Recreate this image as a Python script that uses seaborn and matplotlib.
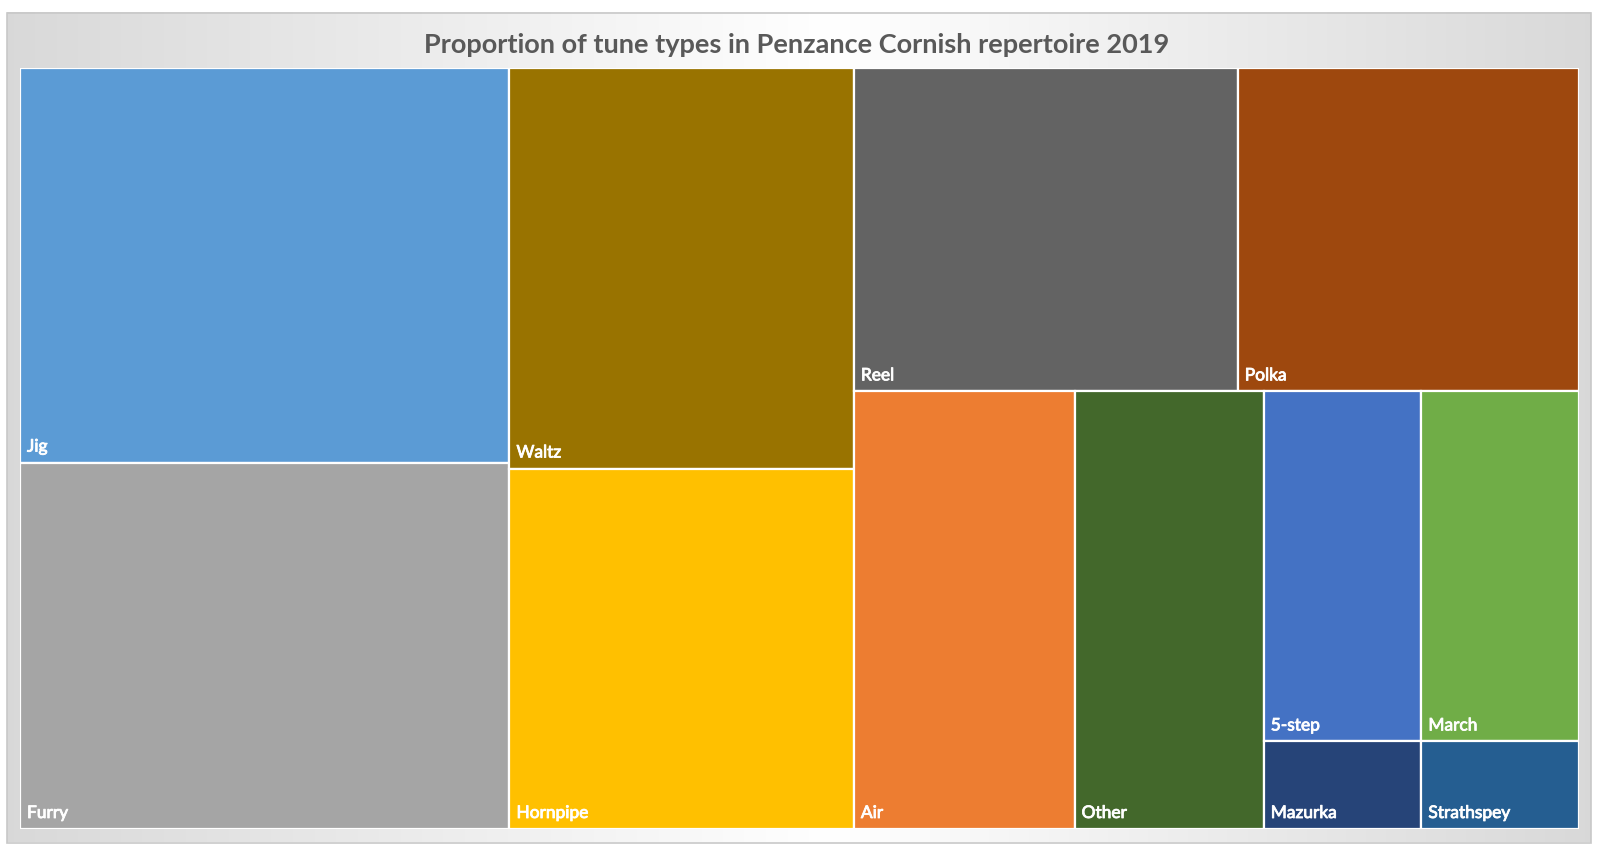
import numpy as np
import matplotlib
matplotlib.use("Agg")
import matplotlib.pyplot as plt
from matplotlib.patches import Rectangle
import matplotlib.patheffects as pe
import seaborn as sns

# ---------------- data ----------------
tune_types = ["Jig", "Furry", "Waltz", "Hornpipe", "Reel", "Polka",
              "Air", "Other", "5-step", "March", "Mazurka", "Strathspey"]
tune_counts = [14, 13, 10, 9, 9, 8, 7, 6, 4, 4, 1, 1]
tune_colors = ["#5B9BD5", "#A5A5A5", "#997300", "#FFC000", "#636363", "#9E480E",
               "#ED7D31", "#43682B", "#4472C4", "#70AD47", "#264478", "#255E91"]
title = "Proportion of tune types in Penzance Cornish repertoire 2019"

# treemap nesting (as in the original): 'h' = side by side, 'v' = stacked
layout = ("h", [("v", ["Jig", "Furry"]),
                ("v", ["Waltz", "Hornpipe"]),
                ("v", [("h", ["Reel", "Polka"]),
                       ("h", ["Air", "Other",
                              ("v", ["5-step", "Mazurka"]),
                              ("v", ["March", "Strathspey"])])])])

value = dict(zip(tune_types, tune_counts))
color = dict(zip(tune_types, tune_colors))


def total(node):
    if isinstance(node, str):
        return value[node]
    return sum(total(c) for c in node[1])


def place(node, x, y, w, h, out):
    if isinstance(node, str):
        out[node] = (x, y, w, h)
        return
    d, kids = node
    s = total(node)
    if d == "h":
        cx = x
        for k in kids:
            kw = w * total(k) / s
            place(k, cx, y, kw, h, out)
            cx += kw
    else:
        cy = y + h
        for k in kids:
            kh = h * total(k) / s
            cy -= kh
            place(k, x, cy, w, kh, out)


rects = {}
place(layout, 0.0, 0.0, 1.0, 1.0, rects)

# ---------------- figure ----------------
sns.set_theme(style="white")
plt.rcParams["font.family"] = ["Lato", "DejaVu Sans"]

W, H = 1601, 844
fig = plt.figure(figsize=(W / 100, H / 100), dpi=100)
fig.patch.set_facecolor("white")

# background panel with light horizontal gradient
bg = fig.add_axes([0, 0, 1, 1])
bg.set_xlim(0, W)
bg.set_ylim(H, 0)
bg.axis("off")
bx0, bx1, by0, by1 = 7, 1591, 13, 842.5
xs = np.linspace(0, 1, 600)
centre = 0.52
d = np.where(xs < centre, (centre - xs) / centre, (xs - centre) / (1 - centre))
grey = 1.0 - 0.15 * d
img = np.repeat(grey[None, :, None], 3, axis=2)
bg.imshow(img, extent=(bx0, bx1, by1, by0), aspect="auto", zorder=0)
bg.add_patch(Rectangle((bx0, by0), bx1 - bx0, by1 - by0, fill=False,
                       edgecolor="#C8C8C8", lw=1.2, zorder=1))

# treemap axes
px0, px1, py0, py1 = 20, 1579, 68, 829
ax = fig.add_axes([px0 / W, 1 - py1 / H, (px1 - px0) / W, (py1 - py0) / H])
ax.set_xlim(0, 1)
ax.set_ylim(0, 1)
ax.axis("off")

for name in tune_types:
    x, y, w, h = rects[name]
    ax.add_patch(Rectangle((x, y), w, h, facecolor=color[name],
                           edgecolor="white", lw=1.6))
    ax.annotate(name, xy=(x, y), xytext=(7, 11), textcoords="offset pixels",
                ha="left", va="baseline", color="white", fontsize=12.5,
                path_effects=[pe.withStroke(linewidth=0.6, foreground="white")])

fig.text(797 / W, 1 - 45 / H, title, ha="center", va="center",
         fontsize=19.5, fontweight="bold", color="#595959")

fig.savefig("out.png", dpi=100)
